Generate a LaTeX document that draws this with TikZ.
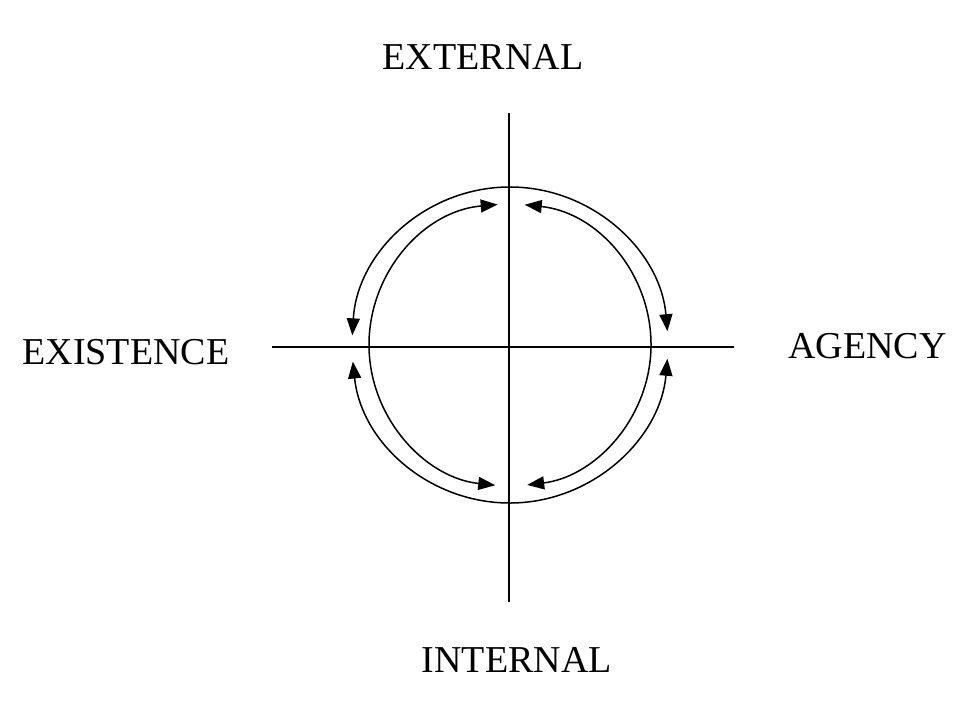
\documentclass[tikz,border=0pt]{standalone}
\usepackage{fontspec}
\setmainfont{Liberation Serif}
\usetikzlibrary{arrows.meta}

\begin{document}
\begin{tikzpicture}[x=1pt, y=1pt,
    axis/.style={line width=2.1pt},
    loop/.style={line width=1.5pt, {Triangle[length=17pt, width=13pt]}-{Triangle[length=17pt, width=13pt]}},
    label/.style={font=\fontsize{38}{40}\selectfont, anchor=base, inner sep=0pt}]

    % Page size
    \useasboundingbox (0,0) rectangle (972,704);

    % Centre of the loops
    \coordinate (O) at (510,359);

    % Axes
    \coordinate (top) at (509,591);
    \coordinate (bottom) at (509,102);
    \coordinate (left) at (272,357);
    \coordinate (right) at (734,357);
    \draw[axis] (top) -- (bottom);
    \draw[axis] (left) -- (right);

    % Outer and inner arcs, arrows at both ends
    \foreach \a/\b/\r in {176.5/5/158, 186/355/158, 95/264/141, 84/-83/141} {
        \draw[loop] ([shift={(\a:\r)}]O) arc[start angle=\a, end angle=\b, radius=\r];
    }

    % Labels
    \node[label] (ext) at (483,634.7) {EXTERNAL};
    \node[label] (int) at (516.7,31.7) {INTERNAL};
    \node[label] (exi) at (125.8,339.7) {EXISTENCE};
    \node[label] (agn) at (867.5,345.7) {AGENCY};

\end{tikzpicture}
\end{document}
